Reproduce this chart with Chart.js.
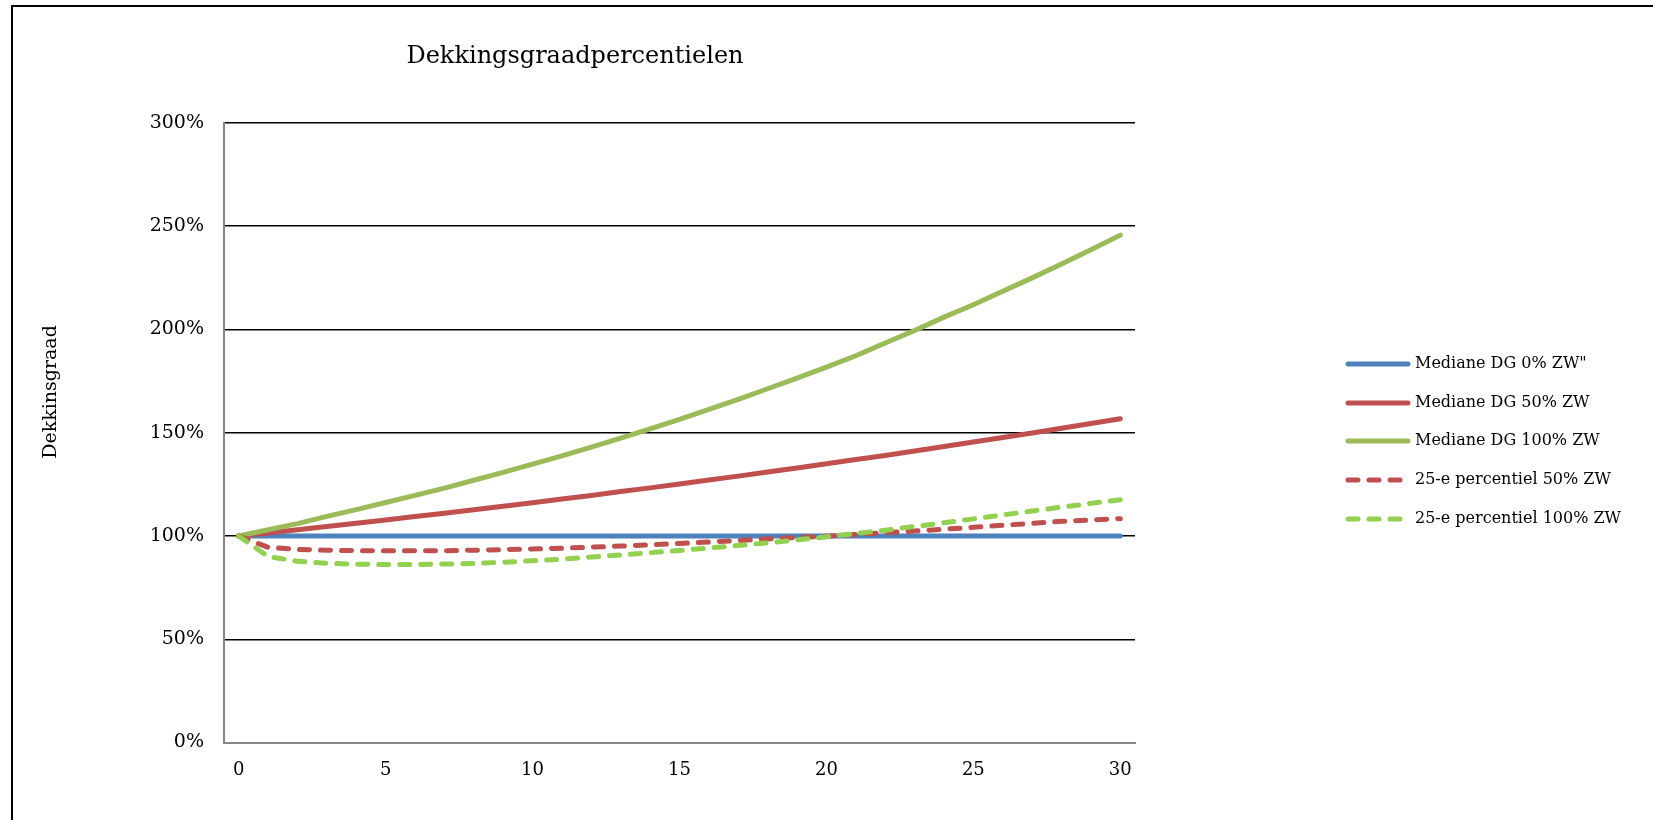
<!DOCTYPE html>
<html>
<head>
<meta charset="utf-8">
<script src="https://cdn.jsdelivr.net/npm/chart.js@4.4.0/dist/chart.umd.min.js"></script>
<style>
  body { margin: 0; background: #fff; }
  #frame { position: absolute; left: 11px; top: 5px; width: 1700px; height: 900px; border: 2px solid #000; }
  canvas { position: absolute; left: 0; top: 0; }
</style>
</head>
<body>
<div id="frame"></div>
<canvas id="chart" width="1653" height="820"></canvas>
<script>
// jaren 0..30
const years = ['0','1','2','3','4','5','6','7','8','9','10','11','12','13','14','15',
  '16','17','18','19','20','21','22','23','24','25','26','27','28','29','30'];
const shownYears = ['0','5','10','15','20','25','30'];

// dekkingsgraad in %
const median0 = [100,100,100,100,100,100,100,100,100,100,100,100,100,100,100,100,
  100,100,100,100,100,100,100,100,100,100,100,100,100,100,100];
const median50 = [100,101.5,103,104.6,106.2,107.8,109.4,111,112.7,114.4,116.1,117.9,119.6,121.5,123.3,125.2,
  127.1,129,131,132.9,135,137,139,141.2,143.3,145.5,147.7,149.9,152.2,154.5,156.8];
const median100 = [100,103,106,109.5,112.8,116.2,119.7,123.2,127,130.8,134.8,138.8,143,147.4,151.9,156.5,
  161.3,166.2,171.3,176.5,181.8,187.3,193.5,199.5,206,212,218.5,225,231.7,238.6,245.7];
const pct25_50 = [100,94.5,93.5,93.1,92.9,92.8,92.8,92.9,93.1,93.4,93.7,94.1,94.6,95.1,95.7,96.4,
  97.1,97.8,98.6,99.3,99.9,100.8,101.6,102.4,103.3,104.2,105.2,106.1,107.1,107.8,108.4];
const pct25_100 = [100,90,87.8,86.8,86.3,86.2,86.2,86.4,86.7,87.3,88,88.8,89.8,90.8,91.9,93,
  94.2,95.4,96.7,98.1,99.6,101.2,102.8,104.6,106.4,108.3,110.2,112.1,114,115.8,117.6];

const yTicks = [0, 50, 100, 150, 200, 250, 300];

const serif = 'DejaVu Serif';
const dash = [10, 11];

const mk = (label, data, color, dashed, order) => ({
  label, data, borderColor: color, backgroundColor: color,
  borderWidth: 5, pointRadius: 0, tension: 0,
  borderDash: dashed ? dash : [], borderCapStyle: 'round', borderJoinStyle: 'round',
  order
});

// titel, as-titel en legenda zelf tekenen
const overlay = {
  id: 'overlay',
  afterDraw(chart) {
    const ctx = chart.ctx;
    ctx.save();
    ctx.fillStyle = '#000';
    ctx.font = '24px "' + serif + '"';
    ctx.textAlign = 'center';
    ctx.textBaseline = 'middle';
    ctx.fillText('Dekkingsgraadpercentielen', 575, 57);

    ctx.save();
    ctx.translate(51, 392);
    ctx.rotate(-Math.PI / 2);
    ctx.font = '19px "' + serif + '"';
    ctx.fillText('Dekkinsgraad', 0, 0);
    ctx.restore();

    const rows = [364, 403, 441, 480, 519];
    ctx.font = '16px "' + serif + '"';
    ctx.textAlign = 'left';
    chart.data.datasets.forEach((ds, i) => {
      const y = rows[i];
      ctx.strokeStyle = ds.borderColor;
      ctx.lineWidth = 5;
      ctx.lineCap = 'round';
      ctx.setLineDash(ds.borderDash);
      ctx.beginPath();
      ctx.moveTo(1348, y);
      ctx.lineTo(ds.borderDash.length ? 1403 : 1408, y);
      ctx.stroke();
      ctx.setLineDash([]);
      ctx.fillText(ds.label, 1415, y);
    });
    ctx.restore();
  }
};

new Chart(document.getElementById('chart'), {
  type: 'line',
  data: {
    labels: years,
    datasets: [
      mk('Mediane DG 0% ZW"', median0, '#4F81BD', false, 5),
      mk('Mediane DG 50% ZW', median50, '#C0504D', false, 4),
      mk('Mediane DG 100% ZW', median100, '#9BBB59', false, 3),
      mk('25-e percentiel 50% ZW', pct25_50, '#C0504D', true, 2),
      mk('25-e percentiel 100% ZW', pct25_100, '#92D050', true, 1)
    ]
  },
  options: {
    responsive: false,
    animation: false,
    layout: { padding: { left: 0, top: 123, right: 518, bottom: 0 } },
    plugins: { legend: { display: false }, title: { display: false }, tooltip: { enabled: false } },
    scales: {
      x: {
        offset: true,
        grid: { display: false },
        border: { display: true, color: '#868686', width: 2 },
        afterFit: s => { s.height = 77.5; },
        ticks: {
          autoSkip: false, maxRotation: 0, padding: 9,
          color: '#000', font: { family: serif, size: 18 },
          callback: (v, i) => shownYears.includes(years[i]) ? years[i] : ''
        }
      },
      y: {
        min: 0, max: 300,
        afterBuildTicks: s => { s.ticks = yTicks.map(v => ({ value: v })); },
        afterFit: s => { s.width = 224; },
        grid: {
          drawTicks: false,
          color: c => c.tick && c.tick.value === 0 ? '#868686' : '#000',
          lineWidth: c => c.tick && c.tick.value === 0 ? 2 : 1.5
        },
        border: { display: true, color: '#868686', width: 2 },
        ticks: {
          padding: 20, color: '#000', font: { family: serif, size: 19 },
          callback: v => v + '%'
        }
      }
    }
  },
  plugins: [overlay]
});
</script>
</body>
</html>
